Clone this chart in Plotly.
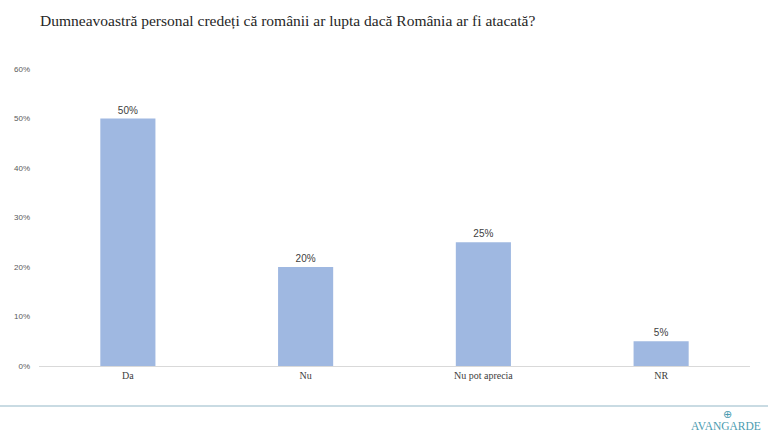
import plotly.graph_objects as go

categories = ["Da", "Nu", "Nu pot aprecia", "NR"]
values = [0.50, 0.20, 0.25, 0.05]
value_labels = ["50%", "20%", "25%", "5%"]
tick_vals = [0, 0.1, 0.2, 0.3, 0.4, 0.5, 0.6]
tick_text = ["0%", "10%", "20%", "30%", "40%", "50%", "60%"]
title = "Dumneavoastră personal credeți că românii ar lupta dacă România ar fi atacată?"

W, H = 768, 434
L, R, T, B = 39, 18, 69, 68
pw = W - L - R
ph = H - T - B

def px_x(x):
    return (x - L) / pw

def px_y(y):
    return (H - B - y) / ph

fig = go.Figure(go.Bar(
    x=categories, y=values,
    marker=dict(color="#9fb8e1", line=dict(width=0)),
    width=0.31,
    text=value_labels, textposition="outside",
    textfont=dict(family="Liberation Sans, Arial", size=10, color="#404040"),
    cliponaxis=False,
))

fig.update_layout(
    width=W, height=H,
    margin=dict(l=L, r=R, t=T, b=B),
    paper_bgcolor="white", plot_bgcolor="white",
    showlegend=False,
    xaxis=dict(
        showgrid=False, showline=True, linecolor="#d9d9d9", linewidth=1,
        ticks="", tickfont=dict(family="Liberation Serif, serif", size=10, color="#404040"),
        range=[-0.5, 3.5],
    ),
    yaxis=dict(
        range=[0, 0.6], tickvals=tick_vals, ticktext=tick_text,
        showgrid=False, zeroline=False, showline=False, ticks="",
        tickfont=dict(family="Liberation Sans, Arial", size=8, color="#595959"),
        ticklabelstandoff=8,
    ),
    shapes=[
        dict(type="line", xref="paper", yref="paper",
             x0=px_x(0), x1=px_x(W), y0=px_y(406), y1=px_y(406),
             line=dict(color="#c9dbe3", width=2)),
    ],
    annotations=[
        dict(text=title, xref="paper", yref="paper", x=px_x(38), y=px_y(21),
             xanchor="left", yanchor="middle", showarrow=False,
             font=dict(family="Liberation Serif, serif", size=15.5, color="#262626")),
        dict(text="AVANGARDE", xref="paper", yref="paper", x=px_x(726), y=px_y(426),
             xanchor="center", yanchor="middle", showarrow=False,
             font=dict(family="Liberation Serif, serif", size=11.5, color="#4a9bb0")),
        dict(text="⊕", xref="paper", yref="paper", x=px_x(727), y=px_y(414),
             xanchor="center", yanchor="middle", showarrow=False,
             font=dict(family="DejaVu Sans", size=11, color="#4a9bb0")),
    ],
)

fig.write_html("out.html")
